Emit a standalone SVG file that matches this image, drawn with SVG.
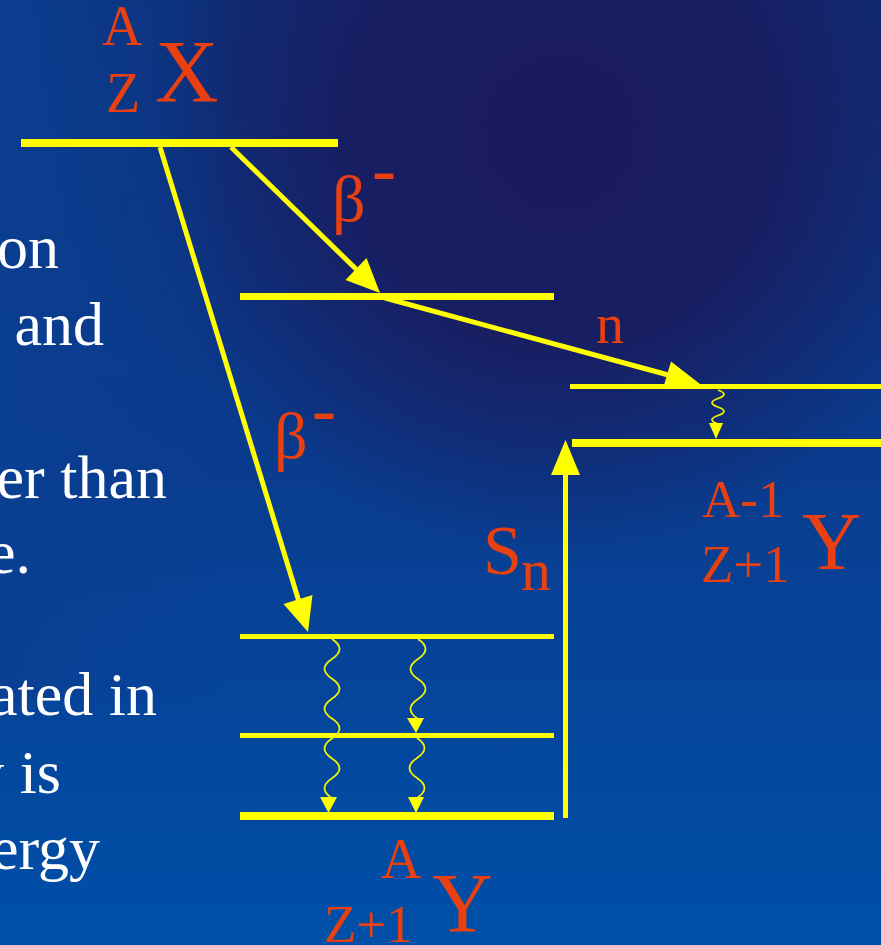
<svg xmlns="http://www.w3.org/2000/svg" width="881" height="945" viewBox="0 0 881 945">
  <defs>
    <linearGradient id="bgV" x1="0" y1="0" x2="0" y2="1">
      <stop offset="0" stop-color="#0d2f7a"/>
      <stop offset="0.45" stop-color="#0a3a8c"/>
      <stop offset="1" stop-color="#004fa8"/>
    </linearGradient>
    <radialGradient id="dark" cx="560" cy="140" r="420" gradientUnits="userSpaceOnUse">
      <stop offset="0" stop-color="#1a1a5c" stop-opacity="1"/>
      <stop offset="0.5" stop-color="#1a1a5c" stop-opacity="0.85"/>
      <stop offset="1" stop-color="#1a1a5c" stop-opacity="0"/>
    </radialGradient>
    <linearGradient id="leftBlue" x1="0" y1="0" x2="1" y2="0">
      <stop offset="0" stop-color="#0a3f92" stop-opacity="0.9"/>
      <stop offset="1" stop-color="#0a3f92" stop-opacity="0"/>
    </linearGradient>
    <style>
      .lvl { stroke: #ffff00; fill: none; stroke-linecap: butt; }
      .conn { stroke: #ffff00; fill: none; stroke-width: 5; }
      .wave { stroke: #f2f200; fill: none; stroke-width: 1.8; }
      .head { fill: #ffff00; stroke: none; }
      .lbl { font-family: "Liberation Serif", "Times New Roman", serif; fill: #e84010; }
      .body { font-family: "Liberation Serif", "Times New Roman", serif; fill: #ffffff; font-size: 62px; text-anchor: end; }
    </style>
  </defs>

  <rect x="0" y="0" width="881" height="945" fill="url(#bgV)"/>
  <rect x="0" y="0" width="881" height="945" fill="url(#dark)"/>
  <rect x="0" y="0" width="230" height="700" fill="url(#leftBlue)"/>

  <g id="body-text">
    <text class="body" x="59" y="268">on</text>
    <text class="body" x="104" y="345">and</text>
    <text class="body" x="167" y="498">er than</text>
    <text class="body" x="31" y="573">e.</text>
    <text class="body" x="157" y="715">ated in</text>
    <text class="body" x="61" y="793">y is</text>
    <text class="body" x="100" y="869">ergy</text>
  </g>

  <g id="level-X"><line class="lvl" x1="21" y1="143" x2="338" y2="143" stroke-width="8"/></g>
  <g id="level-intermediate"><line class="lvl" x1="240" y1="296.5" x2="554" y2="296.5" stroke-width="7"/></g>
  <g id="level-Yn-excited"><line class="lvl" x1="570" y1="386.5" x2="881" y2="386.5" stroke-width="5"/></g>
  <g id="level-Yn-ground"><line class="lvl" x1="572" y1="443" x2="881" y2="443" stroke-width="8"/></g>
  <g id="level-Y-2"><line class="lvl" x1="240" y1="636.5" x2="554" y2="636.5" stroke-width="5"/></g>
  <g id="level-Y-1"><line class="lvl" x1="240" y1="735.5" x2="554" y2="735.5" stroke-width="5"/></g>
  <g id="level-Y-ground"><line class="lvl" x1="240" y1="816" x2="554" y2="816" stroke-width="8"/></g>

  <g id="connectors">
    <line class="conn" x1="160" y1="147" x2="300" y2="605"/>
    <polygon class="head" points="308,632 283.5,604 312.5,595"/>
    <line class="conn" x1="231" y1="147" x2="360" y2="273"/>
    <polygon class="head" points="380,293 345.5,280 366.5,258"/>
    <line class="conn" x1="385" y1="298" x2="672" y2="376" stroke-width="4.5"/>
    <polygon class="head" points="700,384 663,388.5 671,361.5"/>
    <line class="conn" x1="565.5" y1="818" x2="565.5" y2="470"/>
    <polygon class="head" points="565.5,440 551,475 580,475"/>
    <path class="wave" d="M718,390 q12,4.25 0,8.5 t0,8.5 t0,8.5 t0,8.5"/>
    <polygon class="head" points="716,439 709,423 723,423"/>
    <path class="wave" d="M332,639 q15,9.95 0,19.9 t0,19.9 t0,19.9 t0,19.9 t0,19.9 t0,19.9 t0,19.9 t0,19.9"/>
    <polygon class="head" points="328.5,813 320,797 337,797"/>
    <path class="wave" d="M418,639 q15,10 0,20 t0,20 t0,20 t0,20"/>
    <polygon class="head" points="416,733 407,718 424,718"/>
    <path class="wave" d="M417,738 q15,10 0,20 t0,20 t0,20"/>
    <polygon class="head" points="416,813 408,797 424,797"/>
  </g>

  <g id="label-X">
    <text class="lbl" x="102" y="45" font-size="56">A</text>
    <text class="lbl" x="106" y="112" font-size="56">Z</text>
    <text class="lbl" x="155" y="101" font-size="88">X</text>
  </g>
  <g id="label-beta-1">
    <text class="lbl" x="332" y="221" font-size="66">β</text>
    <text class="lbl" x="372" y="193" font-size="72">-</text>
  </g>
  <g id="label-beta-2">
    <text class="lbl" x="274" y="458" font-size="66">β</text>
    <text class="lbl" x="312" y="433" font-size="72">-</text>
  </g>
  <g id="label-n">
    <text class="lbl" x="596" y="343" font-size="56">n</text>
  </g>
  <g id="label-Sn">
    <text class="lbl" x="483" y="574" font-size="70">S</text>
    <text class="lbl" x="521" y="590" font-size="60">n</text>
  </g>
  <g id="label-Y-minus1">
    <text class="lbl" x="702" y="517" font-size="53">A-1</text>
    <text class="lbl" x="701" y="582" font-size="53">Z+1</text>
    <text class="lbl" x="802" y="569" font-size="82">Y</text>
  </g>
  <g id="label-Y">
    <text class="lbl" x="381" y="878" font-size="56">A</text>
    <text class="lbl" x="324" y="942" font-size="53">Z+1</text>
    <text class="lbl" x="432" y="932" font-size="84">Y</text>
  </g>
</svg>
